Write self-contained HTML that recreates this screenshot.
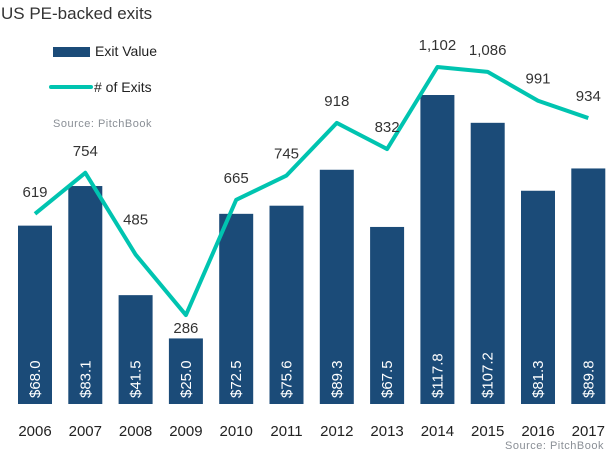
<!DOCTYPE html>
<html><head><meta charset="utf-8"><style>
html,body{margin:0;padding:0;background:#fff;}
svg{display:block;font-family:"Liberation Sans",sans-serif;}
</style></head><body>
<svg id="chart" width="612" height="454" viewBox="0 0 612 454">
<text x="1" y="19" font-size="17" fill="#333">US PE-backed exits</text>
<g>
<rect x="53" y="47" width="37" height="10" fill="#1b4b78"/>
<text x="95" y="56" font-size="14" fill="#222">Exit Value</text>
<line x1="51" y1="87" x2="91" y2="87" stroke="#00c4b0" stroke-width="4" stroke-linecap="round"/>
<text x="94" y="92" font-size="14" fill="#222"># of Exits</text>
</g>
<text x="53" y="127" font-size="11" fill="#8a8f96" letter-spacing="0.5">Source: PitchBook</text>
<text x="604" y="449" font-size="11" fill="#8a8f96" text-anchor="end" letter-spacing="0.5">Source: PitchBook</text>
<g id="bars"></g><g id="line"></g><g id="labels"></g>
</svg>
<script>
const years = ["2006","2007","2008","2009","2010","2011","2012","2013","2014","2015","2016","2017"];
const exitValues = [68.0,83.1,41.5,25.0,72.5,75.6,89.3,67.5,117.8,107.2,81.3,89.8];
const exitCounts = [619,754,485,286,665,745,918,832,1102,1086,991,934];
const countLabels = ["619","754","485","286","665","745","918","832","1,102","1,086","991","934"];
const NS="http://www.w3.org/2000/svg";
const base=404;
function xc(i){return 35+i*50.3;}
function yBar(v){return base-v*2.623;}
function yLine(c){return 402-c*0.304;}
function labelOffset(i){ if(exitCounts[i]<300) return 18; if(i===2) return -30; return -17; }
function mk(tag,attrs,parent){const e=document.createElementNS(NS,tag);for(const k in attrs)e.setAttribute(k,attrs[k]);parent.appendChild(e);return e;}
const gb=document.getElementById('bars'),gl=document.getElementById('line'),gt=document.getElementById('labels');
exitValues.forEach((v,i)=>{
  const r=mk('rect',{x:xc(i)-17,y:yBar(v),width:34,height:base-yBar(v),fill:'#1b4b78'},gb);
  
  
  const t=mk('text',{x:0,y:0,'font-size':15,fill:'#fff',transform:`translate(${xc(i)+5},398) rotate(-90)`},gt);
  t.textContent='$'+v.toFixed(1);
  
  
  const y=mk('text',{x:xc(i),y:436,'font-size':15,fill:'#222','text-anchor':'middle'},gt);
  y.textContent=years[i];
  
  
});
const pts=exitCounts.map((c,i)=>xc(i)+','+yLine(c)).join(' ');
const pl=mk('polyline',{points:pts,fill:'none',stroke:'#00c4b0','stroke-width':4,'stroke-linejoin':'round'},gl);


exitCounts.forEach((c,i)=>{
  const t=mk('text',{x:xc(i),y:yLine(c)+labelOffset(i),'font-size':15,fill:'#333','text-anchor':'middle'},gt);
  t.textContent=countLabels[i];
  
  
});
</script>
</body></html>
